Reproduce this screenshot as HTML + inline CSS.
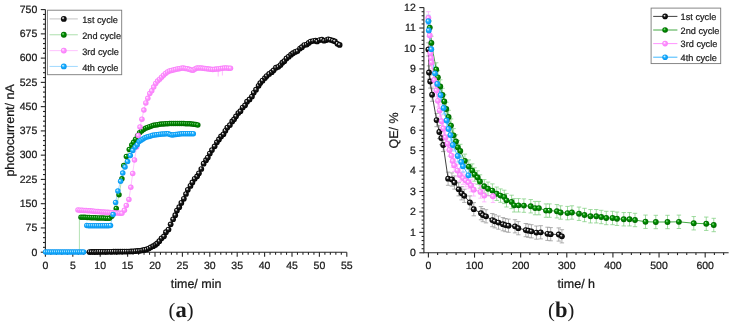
<!DOCTYPE html>
<html><head><meta charset="utf-8"><title>Figure</title>
<style>html,body{margin:0;padding:0;background:#fff;width:735px;height:328px;overflow:hidden}svg{display:block} text{text-rendering:geometricPrecision}</style>
</head><body><svg width="735" height="328" viewBox="0 0 735 328" font-family="'Liberation Sans', Arial, sans-serif" fill="#1a1a1a"><defs><radialGradient id="sk" cx="0.5" cy="0.5" r="0.5" fx="0.33" fy="0.31"><stop offset="0" stop-color="#ffffff"/><stop offset="0.2" stop-color="#c0c0c0"/><stop offset="0.45" stop-color="#1c1c1c"/><stop offset="1" stop-color="#000000"/></radialGradient><radialGradient id="sg" cx="0.5" cy="0.5" r="0.5" fx="0.33" fy="0.31"><stop offset="0" stop-color="#f0fff0"/><stop offset="0.16" stop-color="#6cc86c"/><stop offset="0.45" stop-color="#009000"/><stop offset="1" stop-color="#006400"/></radialGradient><radialGradient id="sp" cx="0.5" cy="0.5" r="0.5" fx="0.33" fy="0.31"><stop offset="0" stop-color="#ffffff"/><stop offset="0.2" stop-color="#ffd0ff"/><stop offset="0.5" stop-color="#ff90ff"/><stop offset="1" stop-color="#f67ef8"/></radialGradient><radialGradient id="sb" cx="0.5" cy="0.5" r="0.5" fx="0.33" fy="0.31"><stop offset="0" stop-color="#ffffff"/><stop offset="0.2" stop-color="#96dcff"/><stop offset="0.5" stop-color="#16adff"/><stop offset="1" stop-color="#0a95ee"/></radialGradient></defs><g stroke="#262626" stroke-width="1.1" fill="none"><path d="M45.4 9.6V252.2H346.8"/><path d="M40.8 252.2H45.4"/><path d="M43 247.35H45.4"/><path d="M43 242.5H45.4"/><path d="M43 237.64H45.4"/><path d="M43 232.79H45.4"/><path d="M40.8 227.94H45.4"/><path d="M43 223.09H45.4"/><path d="M43 218.24H45.4"/><path d="M43 213.38H45.4"/><path d="M43 208.53H45.4"/><path d="M40.8 203.68H45.4"/><path d="M43 198.83H45.4"/><path d="M43 193.98H45.4"/><path d="M43 189.12H45.4"/><path d="M43 184.27H45.4"/><path d="M40.8 179.42H45.4"/><path d="M43 174.57H45.4"/><path d="M43 169.72H45.4"/><path d="M43 164.86H45.4"/><path d="M43 160.01H45.4"/><path d="M40.8 155.16H45.4"/><path d="M43 150.31H45.4"/><path d="M43 145.46H45.4"/><path d="M43 140.6H45.4"/><path d="M43 135.75H45.4"/><path d="M40.8 130.9H45.4"/><path d="M43 126.05H45.4"/><path d="M43 121.2H45.4"/><path d="M43 116.34H45.4"/><path d="M43 111.49H45.4"/><path d="M40.8 106.64H45.4"/><path d="M43 101.79H45.4"/><path d="M43 96.94H45.4"/><path d="M43 92.08H45.4"/><path d="M43 87.23H45.4"/><path d="M40.8 82.38H45.4"/><path d="M43 77.53H45.4"/><path d="M43 72.68H45.4"/><path d="M43 67.82H45.4"/><path d="M43 62.97H45.4"/><path d="M40.8 58.12H45.4"/><path d="M43 53.27H45.4"/><path d="M43 48.42H45.4"/><path d="M43 43.56H45.4"/><path d="M43 38.71H45.4"/><path d="M40.8 33.86H45.4"/><path d="M43 29.01H45.4"/><path d="M43 24.16H45.4"/><path d="M43 19.3H45.4"/><path d="M43 14.45H45.4"/><path d="M40.8 9.6H45.4"/><path d="M45.4 252.2V256.8"/><path d="M50.88 252.2V254.8"/><path d="M56.36 252.2V254.8"/><path d="M61.84 252.2V254.8"/><path d="M67.32 252.2V254.8"/><path d="M72.8 252.2V256.8"/><path d="M78.28 252.2V254.8"/><path d="M83.76 252.2V254.8"/><path d="M89.24 252.2V254.8"/><path d="M94.72 252.2V254.8"/><path d="M100.2 252.2V256.8"/><path d="M105.68 252.2V254.8"/><path d="M111.16 252.2V254.8"/><path d="M116.64 252.2V254.8"/><path d="M122.12 252.2V254.8"/><path d="M127.6 252.2V256.8"/><path d="M133.08 252.2V254.8"/><path d="M138.56 252.2V254.8"/><path d="M144.04 252.2V254.8"/><path d="M149.52 252.2V254.8"/><path d="M155 252.2V256.8"/><path d="M160.48 252.2V254.8"/><path d="M165.96 252.2V254.8"/><path d="M171.44 252.2V254.8"/><path d="M176.92 252.2V254.8"/><path d="M182.4 252.2V256.8"/><path d="M187.88 252.2V254.8"/><path d="M193.36 252.2V254.8"/><path d="M198.84 252.2V254.8"/><path d="M204.32 252.2V254.8"/><path d="M209.8 252.2V256.8"/><path d="M215.28 252.2V254.8"/><path d="M220.76 252.2V254.8"/><path d="M226.24 252.2V254.8"/><path d="M231.72 252.2V254.8"/><path d="M237.2 252.2V256.8"/><path d="M242.68 252.2V254.8"/><path d="M248.16 252.2V254.8"/><path d="M253.64 252.2V254.8"/><path d="M259.12 252.2V254.8"/><path d="M264.6 252.2V256.8"/><path d="M270.08 252.2V254.8"/><path d="M275.56 252.2V254.8"/><path d="M281.04 252.2V254.8"/><path d="M286.52 252.2V254.8"/><path d="M292 252.2V256.8"/><path d="M297.48 252.2V254.8"/><path d="M302.96 252.2V254.8"/><path d="M308.44 252.2V254.8"/><path d="M313.92 252.2V254.8"/><path d="M319.4 252.2V256.8"/><path d="M324.88 252.2V254.8"/><path d="M330.36 252.2V254.8"/><path d="M335.84 252.2V254.8"/><path d="M341.32 252.2V254.8"/><path d="M346.8 252.2V256.8"/></g><polyline points="79.4,252.2 79.4,217.2 81,217.2 83.04,217.29 85.07,217.37 87.11,217.46 89.14,217.55 91.18,217.64 93.21,217.72 95.25,217.81 97.29,217.88 99.32,217.95 101.36,218.02 103.39,218.09 105.43,218.16 107.46,218.23 109.5,218.3 111.8,216.2 113.9,212.8 116.25,208.5 119,194.7 121.9,178.75 123.75,165.6 126.4,156.5 129.25,149.4 131.75,145 133.6,142.2 135.6,139.2 137.61,135.76 139.61,132.77 141.62,131.07 143.63,129.47 145.63,128.15 147.64,127.42 149.65,126.69 151.65,125.96 153.66,125.37 155.66,125.03 157.67,124.68 159.68,124.34 161.68,124.11 163.69,123.95 165.7,123.79 167.7,123.63 169.71,123.6 171.72,123.6 173.72,123.6 175.73,123.6 177.74,123.6 179.74,123.6 181.75,123.6 183.75,123.61 185.76,123.69 187.77,123.77 189.77,123.85 191.78,124.01 193.79,124.31 195.79,124.6 197.8,124.9" fill="none" stroke="#b4e2b4" stroke-width="1"/><polyline points="78,210 80,210.13 81.99,210.27 83.99,210.4 85.98,210.53 87.98,210.67 89.97,210.8 91.97,211 93.96,211.2 95.96,211.4 97.95,211.6 99.95,211.8 101.95,211.94 103.94,212.08 105.94,212.22 107.93,212.36 109.93,212.49 111.92,212.63 113.92,212.76 115.91,212.9 117.91,213.03 119.9,213.17 121.9,213.3 124.4,210.3 126.3,205.6 128.9,199.5 130.8,187.3 132.7,173.5 134.5,160 136.6,147 138.2,135.6 140,127 141.9,119.16 143.87,110.1 145.84,102.9 147.81,98.36 149.78,93.56 151.74,90.82 153.71,87.07 155.68,83.52 157.65,81.1 159.62,79.13 161.59,77.16 163.56,75.19 165.53,73.38 167.5,72 169.46,71.02 171.43,70.46 173.4,70.07 175.37,69.57 177.34,69.04 179.31,68.64 181.28,68.24 183.25,68.11 185.22,68.41 187.18,68.7 189.15,69.33 191.12,70.02 193.09,70.18 195.06,69.12 197.03,68.05 199,67.94 200.97,68.12 202.94,68.31 204.9,68.49 206.87,68.77 208.84,69.05 210.81,69.33 212.78,69.44 214.75,69.27 216.72,69.11 218.69,68.9 220.66,68.62 222.62,68.34 224.59,68.06 226.56,68.06 228.53,68.13 230.5,68.2" fill="none" stroke="#ffc8ff" stroke-width="1"/><path d="M218.2 70V76.5M222.4 70V75.5" stroke="#ffb4ff" stroke-width="0.9"/><polyline points="45.6,252 47.6,252 49.6,252 51.6,252 53.6,252 55.6,252 57.6,252 59.6,252 61.6,252 63.6,252 65.6,252 67.6,252 69.6,252 71.6,252 73.6,252 75.6,252 77.6,252 79.6,252 81.6,252 83.6,252" fill="none" stroke="#a8dcff" stroke-width="1"/><polyline points="86.8,225.6 88.77,225.63 90.75,225.66 92.72,225.69 94.7,225.72 96.67,225.75 98.65,225.78 100.62,225.79 102.6,225.75 104.58,225.71 106.55,225.68 108.53,225.64 110.5,225.6 113.1,214.4 115.6,202.5 117.9,191 120.6,181.25 122.75,173.1 125,166.9 127.6,161.6 130.3,155.5 132.8,150.4 135.2,147 137.2,144.68 139.13,141.58 141.07,140.26 143,139.01 144.94,137.77 146.87,137.1 148.81,136.52 150.74,135.94 152.68,135.37 154.61,135.05 156.54,134.77 158.48,134.49 160.41,134.21 162.35,134.08 164.28,133.95 166.22,133.82 168.15,133.72 170.09,134.38 172.02,134.98 173.96,134.68 175.89,134.38 177.82,134.21 179.76,134.03 181.69,133.86 183.63,133.7 185.56,133.7 187.5,133.7 189.43,133.7 191.37,133.7 193.3,133.7" fill="none" stroke="#a8dcff" stroke-width="1"/><polyline points="89.5,252 91.69,251.97 93.88,251.95 96.08,251.92 98.27,251.89 100.46,251.86 102.65,251.84 104.84,251.81 107.04,251.78 109.23,251.76 111.42,251.73 113.61,251.7 115.81,251.68 118,251.65 120.19,251.62 122.38,251.59 124.57,251.57 126.77,251.54 128.96,251.51 131.15,251.42 133.34,251.27 135.53,251.11 137.73,250.96 139.92,250.81 142.11,250.36 144.3,249.91 146.49,249.41 148.69,248.6 150.76,247.31 153.18,246.17 155.29,244.91 157.15,243.44 159.32,241.13 161.54,238.24 163.98,236.35 165.96,232.16 168.5,229.49 170.66,224.29 173.13,219.27 175.24,215.22 176.94,210.6 179.24,207.19 181.34,202.9 183.86,198.8 185.99,193.98 187.84,189.85 190.46,185.94 192.4,182.43 194.69,178.85 197.12,176.37 198.93,173.24 201.32,169.01 203.65,163.72 206.02,160.19 207.82,157.55 209.82,153.48 211.94,150.06 214.64,146.29 216.9,142.28 218.97,139.43 221.08,136.39 223.46,134.24 225.39,130.77 227.3,127.62 229.9,125.04 232.21,121.41 234.1,119.32 236.04,116.33 238.33,113.08 240.45,111.22 242.69,107.52 245.06,105.32 247.04,101.66 249.56,99.39 251.94,96.49 253.75,92.75 256,89.69 258.61,85.8 260.26,83.1 262.49,80.7 264.93,78.1 266.71,76.04 269.16,73.97 271.76,72.17 273.65,70.26 275.95,67.66 278.3,66.85 280.48,65.04 282.33,62.64 284.32,61.13 286.48,58.46 288.78,56.71 291.06,54.68 293.02,53.16 295.28,51.92 297.42,51.1 300.02,48.55 301.96,47.16 304.23,45.05 306.76,44.58 308.69,42.95 310.61,41.51 312.98,40.99 315.52,40.57 317.15,41.39 319.69,40.02 321.89,39.64 324.07,40.76 326.5,40.08 328.27,39.26 330.4,39.78 332.85,40.61 334.9,41.29 337.43,43.79 339.65,44.93" fill="none" stroke="#c8c8c8" stroke-width="1"/><circle cx="89.5" cy="252" r="2.85" fill="url(#sk)"/><circle cx="91.69" cy="251.97" r="2.85" fill="url(#sk)"/><circle cx="93.88" cy="251.95" r="2.85" fill="url(#sk)"/><circle cx="96.08" cy="251.92" r="2.85" fill="url(#sk)"/><circle cx="98.27" cy="251.89" r="2.85" fill="url(#sk)"/><circle cx="100.46" cy="251.86" r="2.85" fill="url(#sk)"/><circle cx="102.65" cy="251.84" r="2.85" fill="url(#sk)"/><circle cx="104.84" cy="251.81" r="2.85" fill="url(#sk)"/><circle cx="107.04" cy="251.78" r="2.85" fill="url(#sk)"/><circle cx="109.23" cy="251.76" r="2.85" fill="url(#sk)"/><circle cx="111.42" cy="251.73" r="2.85" fill="url(#sk)"/><circle cx="113.61" cy="251.7" r="2.85" fill="url(#sk)"/><circle cx="115.81" cy="251.68" r="2.85" fill="url(#sk)"/><circle cx="118" cy="251.65" r="2.85" fill="url(#sk)"/><circle cx="120.19" cy="251.62" r="2.85" fill="url(#sk)"/><circle cx="122.38" cy="251.59" r="2.85" fill="url(#sk)"/><circle cx="124.57" cy="251.57" r="2.85" fill="url(#sk)"/><circle cx="126.77" cy="251.54" r="2.85" fill="url(#sk)"/><circle cx="128.96" cy="251.51" r="2.85" fill="url(#sk)"/><circle cx="131.15" cy="251.42" r="2.85" fill="url(#sk)"/><circle cx="133.34" cy="251.27" r="2.85" fill="url(#sk)"/><circle cx="135.53" cy="251.11" r="2.85" fill="url(#sk)"/><circle cx="137.73" cy="250.96" r="2.85" fill="url(#sk)"/><circle cx="139.92" cy="250.81" r="2.85" fill="url(#sk)"/><circle cx="142.11" cy="250.36" r="2.85" fill="url(#sk)"/><circle cx="144.3" cy="249.91" r="2.85" fill="url(#sk)"/><circle cx="146.49" cy="249.41" r="2.85" fill="url(#sk)"/><circle cx="148.69" cy="248.6" r="2.85" fill="url(#sk)"/><circle cx="150.76" cy="247.31" r="2.85" fill="url(#sk)"/><circle cx="153.18" cy="246.17" r="2.85" fill="url(#sk)"/><circle cx="155.29" cy="244.91" r="2.85" fill="url(#sk)"/><circle cx="157.15" cy="243.44" r="2.85" fill="url(#sk)"/><circle cx="159.32" cy="241.13" r="2.85" fill="url(#sk)"/><circle cx="161.54" cy="238.24" r="2.85" fill="url(#sk)"/><circle cx="163.98" cy="236.35" r="2.85" fill="url(#sk)"/><circle cx="165.96" cy="232.16" r="2.85" fill="url(#sk)"/><circle cx="168.5" cy="229.49" r="2.85" fill="url(#sk)"/><circle cx="170.66" cy="224.29" r="2.85" fill="url(#sk)"/><circle cx="173.13" cy="219.27" r="2.85" fill="url(#sk)"/><circle cx="175.24" cy="215.22" r="2.85" fill="url(#sk)"/><circle cx="176.94" cy="210.6" r="2.85" fill="url(#sk)"/><circle cx="179.24" cy="207.19" r="2.85" fill="url(#sk)"/><circle cx="181.34" cy="202.9" r="2.85" fill="url(#sk)"/><circle cx="183.86" cy="198.8" r="2.85" fill="url(#sk)"/><circle cx="185.99" cy="193.98" r="2.85" fill="url(#sk)"/><circle cx="187.84" cy="189.85" r="2.85" fill="url(#sk)"/><circle cx="190.46" cy="185.94" r="2.85" fill="url(#sk)"/><circle cx="192.4" cy="182.43" r="2.85" fill="url(#sk)"/><circle cx="194.69" cy="178.85" r="2.85" fill="url(#sk)"/><circle cx="197.12" cy="176.37" r="2.85" fill="url(#sk)"/><circle cx="198.93" cy="173.24" r="2.85" fill="url(#sk)"/><circle cx="201.32" cy="169.01" r="2.85" fill="url(#sk)"/><circle cx="203.65" cy="163.72" r="2.85" fill="url(#sk)"/><circle cx="206.02" cy="160.19" r="2.85" fill="url(#sk)"/><circle cx="207.82" cy="157.55" r="2.85" fill="url(#sk)"/><circle cx="209.82" cy="153.48" r="2.85" fill="url(#sk)"/><circle cx="211.94" cy="150.06" r="2.85" fill="url(#sk)"/><circle cx="214.64" cy="146.29" r="2.85" fill="url(#sk)"/><circle cx="216.9" cy="142.28" r="2.85" fill="url(#sk)"/><circle cx="218.97" cy="139.43" r="2.85" fill="url(#sk)"/><circle cx="221.08" cy="136.39" r="2.85" fill="url(#sk)"/><circle cx="223.46" cy="134.24" r="2.85" fill="url(#sk)"/><circle cx="225.39" cy="130.77" r="2.85" fill="url(#sk)"/><circle cx="227.3" cy="127.62" r="2.85" fill="url(#sk)"/><circle cx="229.9" cy="125.04" r="2.85" fill="url(#sk)"/><circle cx="232.21" cy="121.41" r="2.85" fill="url(#sk)"/><circle cx="234.1" cy="119.32" r="2.85" fill="url(#sk)"/><circle cx="236.04" cy="116.33" r="2.85" fill="url(#sk)"/><circle cx="238.33" cy="113.08" r="2.85" fill="url(#sk)"/><circle cx="240.45" cy="111.22" r="2.85" fill="url(#sk)"/><circle cx="242.69" cy="107.52" r="2.85" fill="url(#sk)"/><circle cx="245.06" cy="105.32" r="2.85" fill="url(#sk)"/><circle cx="247.04" cy="101.66" r="2.85" fill="url(#sk)"/><circle cx="249.56" cy="99.39" r="2.85" fill="url(#sk)"/><circle cx="251.94" cy="96.49" r="2.85" fill="url(#sk)"/><circle cx="253.75" cy="92.75" r="2.85" fill="url(#sk)"/><circle cx="256" cy="89.69" r="2.85" fill="url(#sk)"/><circle cx="258.61" cy="85.8" r="2.85" fill="url(#sk)"/><circle cx="260.26" cy="83.1" r="2.85" fill="url(#sk)"/><circle cx="262.49" cy="80.7" r="2.85" fill="url(#sk)"/><circle cx="264.93" cy="78.1" r="2.85" fill="url(#sk)"/><circle cx="266.71" cy="76.04" r="2.85" fill="url(#sk)"/><circle cx="269.16" cy="73.97" r="2.85" fill="url(#sk)"/><circle cx="271.76" cy="72.17" r="2.85" fill="url(#sk)"/><circle cx="273.65" cy="70.26" r="2.85" fill="url(#sk)"/><circle cx="275.95" cy="67.66" r="2.85" fill="url(#sk)"/><circle cx="278.3" cy="66.85" r="2.85" fill="url(#sk)"/><circle cx="280.48" cy="65.04" r="2.85" fill="url(#sk)"/><circle cx="282.33" cy="62.64" r="2.85" fill="url(#sk)"/><circle cx="284.32" cy="61.13" r="2.85" fill="url(#sk)"/><circle cx="286.48" cy="58.46" r="2.85" fill="url(#sk)"/><circle cx="288.78" cy="56.71" r="2.85" fill="url(#sk)"/><circle cx="291.06" cy="54.68" r="2.85" fill="url(#sk)"/><circle cx="293.02" cy="53.16" r="2.85" fill="url(#sk)"/><circle cx="295.28" cy="51.92" r="2.85" fill="url(#sk)"/><circle cx="297.42" cy="51.1" r="2.85" fill="url(#sk)"/><circle cx="300.02" cy="48.55" r="2.85" fill="url(#sk)"/><circle cx="301.96" cy="47.16" r="2.85" fill="url(#sk)"/><circle cx="304.23" cy="45.05" r="2.85" fill="url(#sk)"/><circle cx="306.76" cy="44.58" r="2.85" fill="url(#sk)"/><circle cx="308.69" cy="42.95" r="2.85" fill="url(#sk)"/><circle cx="310.61" cy="41.51" r="2.85" fill="url(#sk)"/><circle cx="312.98" cy="40.99" r="2.85" fill="url(#sk)"/><circle cx="315.52" cy="40.57" r="2.85" fill="url(#sk)"/><circle cx="317.15" cy="41.39" r="2.85" fill="url(#sk)"/><circle cx="319.69" cy="40.02" r="2.85" fill="url(#sk)"/><circle cx="321.89" cy="39.64" r="2.85" fill="url(#sk)"/><circle cx="324.07" cy="40.76" r="2.85" fill="url(#sk)"/><circle cx="326.5" cy="40.08" r="2.85" fill="url(#sk)"/><circle cx="328.27" cy="39.26" r="2.85" fill="url(#sk)"/><circle cx="330.4" cy="39.78" r="2.85" fill="url(#sk)"/><circle cx="332.85" cy="40.61" r="2.85" fill="url(#sk)"/><circle cx="334.9" cy="41.29" r="2.85" fill="url(#sk)"/><circle cx="337.43" cy="43.79" r="2.85" fill="url(#sk)"/><circle cx="339.65" cy="44.93" r="2.85" fill="url(#sk)"/><circle cx="81" cy="217.2" r="2.75" fill="url(#sg)"/><circle cx="83.04" cy="217.29" r="2.75" fill="url(#sg)"/><circle cx="85.07" cy="217.37" r="2.75" fill="url(#sg)"/><circle cx="87.11" cy="217.46" r="2.75" fill="url(#sg)"/><circle cx="89.14" cy="217.55" r="2.75" fill="url(#sg)"/><circle cx="91.18" cy="217.64" r="2.75" fill="url(#sg)"/><circle cx="93.21" cy="217.72" r="2.75" fill="url(#sg)"/><circle cx="95.25" cy="217.81" r="2.75" fill="url(#sg)"/><circle cx="97.29" cy="217.88" r="2.75" fill="url(#sg)"/><circle cx="99.32" cy="217.95" r="2.75" fill="url(#sg)"/><circle cx="101.36" cy="218.02" r="2.75" fill="url(#sg)"/><circle cx="103.39" cy="218.09" r="2.75" fill="url(#sg)"/><circle cx="105.43" cy="218.16" r="2.75" fill="url(#sg)"/><circle cx="107.46" cy="218.23" r="2.75" fill="url(#sg)"/><circle cx="109.5" cy="218.3" r="2.75" fill="url(#sg)"/><circle cx="111.8" cy="216.2" r="2.75" fill="url(#sg)"/><circle cx="113.9" cy="212.8" r="2.75" fill="url(#sg)"/><circle cx="116.25" cy="208.5" r="2.75" fill="url(#sg)"/><circle cx="119" cy="194.7" r="2.75" fill="url(#sg)"/><circle cx="121.9" cy="178.75" r="2.75" fill="url(#sg)"/><circle cx="123.75" cy="165.6" r="2.75" fill="url(#sg)"/><circle cx="126.4" cy="156.5" r="2.75" fill="url(#sg)"/><circle cx="129.25" cy="149.4" r="2.75" fill="url(#sg)"/><circle cx="131.75" cy="145" r="2.75" fill="url(#sg)"/><circle cx="133.6" cy="142.2" r="2.75" fill="url(#sg)"/><circle cx="135.6" cy="139.2" r="2.75" fill="url(#sg)"/><circle cx="137.61" cy="135.76" r="2.75" fill="url(#sg)"/><circle cx="139.61" cy="132.77" r="2.75" fill="url(#sg)"/><circle cx="141.62" cy="131.07" r="2.75" fill="url(#sg)"/><circle cx="143.63" cy="129.47" r="2.75" fill="url(#sg)"/><circle cx="145.63" cy="128.15" r="2.75" fill="url(#sg)"/><circle cx="147.64" cy="127.42" r="2.75" fill="url(#sg)"/><circle cx="149.65" cy="126.69" r="2.75" fill="url(#sg)"/><circle cx="151.65" cy="125.96" r="2.75" fill="url(#sg)"/><circle cx="153.66" cy="125.37" r="2.75" fill="url(#sg)"/><circle cx="155.66" cy="125.03" r="2.75" fill="url(#sg)"/><circle cx="157.67" cy="124.68" r="2.75" fill="url(#sg)"/><circle cx="159.68" cy="124.34" r="2.75" fill="url(#sg)"/><circle cx="161.68" cy="124.11" r="2.75" fill="url(#sg)"/><circle cx="163.69" cy="123.95" r="2.75" fill="url(#sg)"/><circle cx="165.7" cy="123.79" r="2.75" fill="url(#sg)"/><circle cx="167.7" cy="123.63" r="2.75" fill="url(#sg)"/><circle cx="169.71" cy="123.6" r="2.75" fill="url(#sg)"/><circle cx="171.72" cy="123.6" r="2.75" fill="url(#sg)"/><circle cx="173.72" cy="123.6" r="2.75" fill="url(#sg)"/><circle cx="175.73" cy="123.6" r="2.75" fill="url(#sg)"/><circle cx="177.74" cy="123.6" r="2.75" fill="url(#sg)"/><circle cx="179.74" cy="123.6" r="2.75" fill="url(#sg)"/><circle cx="181.75" cy="123.6" r="2.75" fill="url(#sg)"/><circle cx="183.75" cy="123.61" r="2.75" fill="url(#sg)"/><circle cx="185.76" cy="123.69" r="2.75" fill="url(#sg)"/><circle cx="187.77" cy="123.77" r="2.75" fill="url(#sg)"/><circle cx="189.77" cy="123.85" r="2.75" fill="url(#sg)"/><circle cx="191.78" cy="124.01" r="2.75" fill="url(#sg)"/><circle cx="193.79" cy="124.31" r="2.75" fill="url(#sg)"/><circle cx="195.79" cy="124.6" r="2.75" fill="url(#sg)"/><circle cx="197.8" cy="124.9" r="2.75" fill="url(#sg)"/><circle cx="78" cy="210" r="2.75" fill="url(#sp)"/><circle cx="80" cy="210.13" r="2.75" fill="url(#sp)"/><circle cx="81.99" cy="210.27" r="2.75" fill="url(#sp)"/><circle cx="83.99" cy="210.4" r="2.75" fill="url(#sp)"/><circle cx="85.98" cy="210.53" r="2.75" fill="url(#sp)"/><circle cx="87.98" cy="210.67" r="2.75" fill="url(#sp)"/><circle cx="89.97" cy="210.8" r="2.75" fill="url(#sp)"/><circle cx="91.97" cy="211" r="2.75" fill="url(#sp)"/><circle cx="93.96" cy="211.2" r="2.75" fill="url(#sp)"/><circle cx="95.96" cy="211.4" r="2.75" fill="url(#sp)"/><circle cx="97.95" cy="211.6" r="2.75" fill="url(#sp)"/><circle cx="99.95" cy="211.8" r="2.75" fill="url(#sp)"/><circle cx="101.95" cy="211.94" r="2.75" fill="url(#sp)"/><circle cx="103.94" cy="212.08" r="2.75" fill="url(#sp)"/><circle cx="105.94" cy="212.22" r="2.75" fill="url(#sp)"/><circle cx="107.93" cy="212.36" r="2.75" fill="url(#sp)"/><circle cx="109.93" cy="212.49" r="2.75" fill="url(#sp)"/><circle cx="111.92" cy="212.63" r="2.75" fill="url(#sp)"/><circle cx="113.92" cy="212.76" r="2.75" fill="url(#sp)"/><circle cx="115.91" cy="212.9" r="2.75" fill="url(#sp)"/><circle cx="117.91" cy="213.03" r="2.75" fill="url(#sp)"/><circle cx="119.9" cy="213.17" r="2.75" fill="url(#sp)"/><circle cx="121.9" cy="213.3" r="2.75" fill="url(#sp)"/><circle cx="124.4" cy="210.3" r="2.75" fill="url(#sp)"/><circle cx="126.3" cy="205.6" r="2.75" fill="url(#sp)"/><circle cx="128.9" cy="199.5" r="2.75" fill="url(#sp)"/><circle cx="130.8" cy="187.3" r="2.75" fill="url(#sp)"/><circle cx="132.7" cy="173.5" r="2.75" fill="url(#sp)"/><circle cx="134.5" cy="160" r="2.75" fill="url(#sp)"/><circle cx="136.6" cy="147" r="2.75" fill="url(#sp)"/><circle cx="138.2" cy="135.6" r="2.75" fill="url(#sp)"/><circle cx="140" cy="127" r="2.75" fill="url(#sp)"/><circle cx="141.9" cy="119.16" r="2.75" fill="url(#sp)"/><circle cx="143.87" cy="110.1" r="2.75" fill="url(#sp)"/><circle cx="145.84" cy="102.9" r="2.75" fill="url(#sp)"/><circle cx="147.81" cy="98.36" r="2.75" fill="url(#sp)"/><circle cx="149.78" cy="93.56" r="2.75" fill="url(#sp)"/><circle cx="151.74" cy="90.82" r="2.75" fill="url(#sp)"/><circle cx="153.71" cy="87.07" r="2.75" fill="url(#sp)"/><circle cx="155.68" cy="83.52" r="2.75" fill="url(#sp)"/><circle cx="157.65" cy="81.1" r="2.75" fill="url(#sp)"/><circle cx="159.62" cy="79.13" r="2.75" fill="url(#sp)"/><circle cx="161.59" cy="77.16" r="2.75" fill="url(#sp)"/><circle cx="163.56" cy="75.19" r="2.75" fill="url(#sp)"/><circle cx="165.53" cy="73.38" r="2.75" fill="url(#sp)"/><circle cx="167.5" cy="72" r="2.75" fill="url(#sp)"/><circle cx="169.46" cy="71.02" r="2.75" fill="url(#sp)"/><circle cx="171.43" cy="70.46" r="2.75" fill="url(#sp)"/><circle cx="173.4" cy="70.07" r="2.75" fill="url(#sp)"/><circle cx="175.37" cy="69.57" r="2.75" fill="url(#sp)"/><circle cx="177.34" cy="69.04" r="2.75" fill="url(#sp)"/><circle cx="179.31" cy="68.64" r="2.75" fill="url(#sp)"/><circle cx="181.28" cy="68.24" r="2.75" fill="url(#sp)"/><circle cx="183.25" cy="68.11" r="2.75" fill="url(#sp)"/><circle cx="185.22" cy="68.41" r="2.75" fill="url(#sp)"/><circle cx="187.18" cy="68.7" r="2.75" fill="url(#sp)"/><circle cx="189.15" cy="69.33" r="2.75" fill="url(#sp)"/><circle cx="191.12" cy="70.02" r="2.75" fill="url(#sp)"/><circle cx="193.09" cy="70.18" r="2.75" fill="url(#sp)"/><circle cx="195.06" cy="69.12" r="2.75" fill="url(#sp)"/><circle cx="197.03" cy="68.05" r="2.75" fill="url(#sp)"/><circle cx="199" cy="67.94" r="2.75" fill="url(#sp)"/><circle cx="200.97" cy="68.12" r="2.75" fill="url(#sp)"/><circle cx="202.94" cy="68.31" r="2.75" fill="url(#sp)"/><circle cx="204.9" cy="68.49" r="2.75" fill="url(#sp)"/><circle cx="206.87" cy="68.77" r="2.75" fill="url(#sp)"/><circle cx="208.84" cy="69.05" r="2.75" fill="url(#sp)"/><circle cx="210.81" cy="69.33" r="2.75" fill="url(#sp)"/><circle cx="212.78" cy="69.44" r="2.75" fill="url(#sp)"/><circle cx="214.75" cy="69.27" r="2.75" fill="url(#sp)"/><circle cx="216.72" cy="69.11" r="2.75" fill="url(#sp)"/><circle cx="218.69" cy="68.9" r="2.75" fill="url(#sp)"/><circle cx="220.66" cy="68.62" r="2.75" fill="url(#sp)"/><circle cx="222.62" cy="68.34" r="2.75" fill="url(#sp)"/><circle cx="224.59" cy="68.06" r="2.75" fill="url(#sp)"/><circle cx="226.56" cy="68.06" r="2.75" fill="url(#sp)"/><circle cx="228.53" cy="68.13" r="2.75" fill="url(#sp)"/><circle cx="230.5" cy="68.2" r="2.75" fill="url(#sp)"/><circle cx="45.6" cy="252" r="2.75" fill="url(#sb)"/><circle cx="47.6" cy="252" r="2.75" fill="url(#sb)"/><circle cx="49.6" cy="252" r="2.75" fill="url(#sb)"/><circle cx="51.6" cy="252" r="2.75" fill="url(#sb)"/><circle cx="53.6" cy="252" r="2.75" fill="url(#sb)"/><circle cx="55.6" cy="252" r="2.75" fill="url(#sb)"/><circle cx="57.6" cy="252" r="2.75" fill="url(#sb)"/><circle cx="59.6" cy="252" r="2.75" fill="url(#sb)"/><circle cx="61.6" cy="252" r="2.75" fill="url(#sb)"/><circle cx="63.6" cy="252" r="2.75" fill="url(#sb)"/><circle cx="65.6" cy="252" r="2.75" fill="url(#sb)"/><circle cx="67.6" cy="252" r="2.75" fill="url(#sb)"/><circle cx="69.6" cy="252" r="2.75" fill="url(#sb)"/><circle cx="71.6" cy="252" r="2.75" fill="url(#sb)"/><circle cx="73.6" cy="252" r="2.75" fill="url(#sb)"/><circle cx="75.6" cy="252" r="2.75" fill="url(#sb)"/><circle cx="77.6" cy="252" r="2.75" fill="url(#sb)"/><circle cx="79.6" cy="252" r="2.75" fill="url(#sb)"/><circle cx="81.6" cy="252" r="2.75" fill="url(#sb)"/><circle cx="83.6" cy="252" r="2.75" fill="url(#sb)"/><circle cx="86.8" cy="225.6" r="2.75" fill="url(#sb)"/><circle cx="88.77" cy="225.63" r="2.75" fill="url(#sb)"/><circle cx="90.75" cy="225.66" r="2.75" fill="url(#sb)"/><circle cx="92.72" cy="225.69" r="2.75" fill="url(#sb)"/><circle cx="94.7" cy="225.72" r="2.75" fill="url(#sb)"/><circle cx="96.67" cy="225.75" r="2.75" fill="url(#sb)"/><circle cx="98.65" cy="225.78" r="2.75" fill="url(#sb)"/><circle cx="100.62" cy="225.79" r="2.75" fill="url(#sb)"/><circle cx="102.6" cy="225.75" r="2.75" fill="url(#sb)"/><circle cx="104.58" cy="225.71" r="2.75" fill="url(#sb)"/><circle cx="106.55" cy="225.68" r="2.75" fill="url(#sb)"/><circle cx="108.53" cy="225.64" r="2.75" fill="url(#sb)"/><circle cx="110.5" cy="225.6" r="2.75" fill="url(#sb)"/><circle cx="113.1" cy="214.4" r="2.75" fill="url(#sb)"/><circle cx="115.6" cy="202.5" r="2.75" fill="url(#sb)"/><circle cx="117.9" cy="191" r="2.75" fill="url(#sb)"/><circle cx="120.6" cy="181.25" r="2.75" fill="url(#sb)"/><circle cx="122.75" cy="173.1" r="2.75" fill="url(#sb)"/><circle cx="125" cy="166.9" r="2.75" fill="url(#sb)"/><circle cx="127.6" cy="161.6" r="2.75" fill="url(#sb)"/><circle cx="130.3" cy="155.5" r="2.75" fill="url(#sb)"/><circle cx="132.8" cy="150.4" r="2.75" fill="url(#sb)"/><circle cx="135.2" cy="147" r="2.75" fill="url(#sb)"/><circle cx="137.2" cy="144.68" r="2.75" fill="url(#sb)"/><circle cx="139.13" cy="141.58" r="2.75" fill="url(#sb)"/><circle cx="141.07" cy="140.26" r="2.75" fill="url(#sb)"/><circle cx="143" cy="139.01" r="2.75" fill="url(#sb)"/><circle cx="144.94" cy="137.77" r="2.75" fill="url(#sb)"/><circle cx="146.87" cy="137.1" r="2.75" fill="url(#sb)"/><circle cx="148.81" cy="136.52" r="2.75" fill="url(#sb)"/><circle cx="150.74" cy="135.94" r="2.75" fill="url(#sb)"/><circle cx="152.68" cy="135.37" r="2.75" fill="url(#sb)"/><circle cx="154.61" cy="135.05" r="2.75" fill="url(#sb)"/><circle cx="156.54" cy="134.77" r="2.75" fill="url(#sb)"/><circle cx="158.48" cy="134.49" r="2.75" fill="url(#sb)"/><circle cx="160.41" cy="134.21" r="2.75" fill="url(#sb)"/><circle cx="162.35" cy="134.08" r="2.75" fill="url(#sb)"/><circle cx="164.28" cy="133.95" r="2.75" fill="url(#sb)"/><circle cx="166.22" cy="133.82" r="2.75" fill="url(#sb)"/><circle cx="168.15" cy="133.72" r="2.75" fill="url(#sb)"/><circle cx="170.09" cy="134.38" r="2.75" fill="url(#sb)"/><circle cx="172.02" cy="134.98" r="2.75" fill="url(#sb)"/><circle cx="173.96" cy="134.68" r="2.75" fill="url(#sb)"/><circle cx="175.89" cy="134.38" r="2.75" fill="url(#sb)"/><circle cx="177.82" cy="134.21" r="2.75" fill="url(#sb)"/><circle cx="179.76" cy="134.03" r="2.75" fill="url(#sb)"/><circle cx="181.69" cy="133.86" r="2.75" fill="url(#sb)"/><circle cx="183.63" cy="133.7" r="2.75" fill="url(#sb)"/><circle cx="185.56" cy="133.7" r="2.75" fill="url(#sb)"/><circle cx="187.5" cy="133.7" r="2.75" fill="url(#sb)"/><circle cx="189.43" cy="133.7" r="2.75" fill="url(#sb)"/><circle cx="191.37" cy="133.7" r="2.75" fill="url(#sb)"/><circle cx="193.3" cy="133.7" r="2.75" fill="url(#sb)"/><g stroke="#262626" stroke-width="1.1" fill="none"><path d="M423.9 7.6V252.8H728.61"/><path d="M419.3 252.8H423.9"/><path d="M421.6 248.71H423.9"/><path d="M421.6 244.63H423.9"/><path d="M421.6 240.54H423.9"/><path d="M421.6 236.45H423.9"/><path d="M419.3 232.37H423.9"/><path d="M421.6 228.28H423.9"/><path d="M421.6 224.19H423.9"/><path d="M421.6 220.11H423.9"/><path d="M421.6 216.02H423.9"/><path d="M419.3 211.93H423.9"/><path d="M421.6 207.85H423.9"/><path d="M421.6 203.76H423.9"/><path d="M421.6 199.67H423.9"/><path d="M421.6 195.59H423.9"/><path d="M419.3 191.5H423.9"/><path d="M421.6 187.41H423.9"/><path d="M421.6 183.33H423.9"/><path d="M421.6 179.24H423.9"/><path d="M421.6 175.15H423.9"/><path d="M419.3 171.07H423.9"/><path d="M421.6 166.98H423.9"/><path d="M421.6 162.89H423.9"/><path d="M421.6 158.81H423.9"/><path d="M421.6 154.72H423.9"/><path d="M419.3 150.63H423.9"/><path d="M421.6 146.55H423.9"/><path d="M421.6 142.46H423.9"/><path d="M421.6 138.37H423.9"/><path d="M421.6 134.29H423.9"/><path d="M419.3 130.2H423.9"/><path d="M421.6 126.11H423.9"/><path d="M421.6 122.03H423.9"/><path d="M421.6 117.94H423.9"/><path d="M421.6 113.85H423.9"/><path d="M419.3 109.77H423.9"/><path d="M421.6 105.68H423.9"/><path d="M421.6 101.59H423.9"/><path d="M421.6 97.51H423.9"/><path d="M421.6 93.42H423.9"/><path d="M419.3 89.33H423.9"/><path d="M421.6 85.25H423.9"/><path d="M421.6 81.16H423.9"/><path d="M421.6 77.07H423.9"/><path d="M421.6 72.99H423.9"/><path d="M419.3 68.9H423.9"/><path d="M421.6 64.81H423.9"/><path d="M421.6 60.73H423.9"/><path d="M421.6 56.64H423.9"/><path d="M421.6 52.55H423.9"/><path d="M419.3 48.47H423.9"/><path d="M421.6 44.38H423.9"/><path d="M421.6 40.29H423.9"/><path d="M421.6 36.21H423.9"/><path d="M421.6 32.12H423.9"/><path d="M419.3 28.03H423.9"/><path d="M421.6 23.95H423.9"/><path d="M421.6 19.86H423.9"/><path d="M421.6 15.77H423.9"/><path d="M421.6 11.69H423.9"/><path d="M419.3 7.6H423.9"/><path d="M428.4 252.8V257.6"/><path d="M437.63 252.8V255.1"/><path d="M446.85 252.8V255.1"/><path d="M456.08 252.8V255.1"/><path d="M465.3 252.8V255.1"/><path d="M474.53 252.8V257.6"/><path d="M483.76 252.8V255.1"/><path d="M492.98 252.8V255.1"/><path d="M502.21 252.8V255.1"/><path d="M511.43 252.8V255.1"/><path d="M520.66 252.8V257.6"/><path d="M529.89 252.8V255.1"/><path d="M539.11 252.8V255.1"/><path d="M548.34 252.8V255.1"/><path d="M557.56 252.8V255.1"/><path d="M566.79 252.8V257.6"/><path d="M576.02 252.8V255.1"/><path d="M585.24 252.8V255.1"/><path d="M594.47 252.8V255.1"/><path d="M603.69 252.8V255.1"/><path d="M612.92 252.8V257.6"/><path d="M622.15 252.8V255.1"/><path d="M631.37 252.8V255.1"/><path d="M640.6 252.8V255.1"/><path d="M649.82 252.8V255.1"/><path d="M659.05 252.8V257.6"/><path d="M668.28 252.8V255.1"/><path d="M677.5 252.8V255.1"/><path d="M686.73 252.8V255.1"/><path d="M695.95 252.8V255.1"/><path d="M705.18 252.8V257.6"/><path d="M714.41 252.8V255.1"/><path d="M723.63 252.8V255.1"/></g><g stroke="#959595" stroke-width="0.75" fill="none"><path d="M428.4 42.8V56M426.2 42.8h4.4M426.2 56h4.4"/><path d="M429 65.9V79.1M426.8 65.9h4.4M426.8 79.1h4.4"/><path d="M430.2 74.9V88.1M428 74.9h4.4M428 88.1h4.4"/><path d="M432.1 88.1V101.3M429.9 88.1h4.4M429.9 101.3h4.4"/><path d="M436.6 113.5V126.7M434.4 113.5h4.4M434.4 126.7h4.4"/><path d="M439.3 125.4V138.6M437.1 125.4h4.4M437.1 138.6h4.4"/><path d="M441.3 131.5V144.7M439.1 131.5h4.4M439.1 144.7h4.4"/><path d="M443.2 138.4V151.6M441 138.4h4.4M441 151.6h4.4"/><path d="M448.1 172.1V185.3M445.9 172.1h4.4M445.9 185.3h4.4"/><path d="M451.9 172.9V186.1M449.7 172.9h4.4M449.7 186.1h4.4"/><path d="M454.5 175.9V189.1M452.3 175.9h4.4M452.3 189.1h4.4"/><path d="M458.7 182.7V195.9M456.5 182.7h4.4M456.5 195.9h4.4"/><path d="M461.7 186.7V199.9M459.5 186.7h4.4M459.5 199.9h4.4"/><path d="M464.3 189.2V202.4M462.1 189.2h4.4M462.1 202.4h4.4"/><path d="M469.9 195.9V209.1M467.7 195.9h4.4M467.7 209.1h4.4"/><path d="M473.8 202.6V215.8M471.6 202.6h4.4M471.6 215.8h4.4"/><path d="M481 206.6V219.8M478.8 206.6h4.4M478.8 219.8h4.4"/><path d="M482.9 208.5V221.7M480.7 208.5h4.4M480.7 221.7h4.4"/><path d="M486 209.7V222.9M483.8 209.7h4.4M483.8 222.9h4.4"/><path d="M492.3 213.5V226.7M490.1 213.5h4.4M490.1 226.7h4.4"/><path d="M494.8 214.7V227.9M492.6 214.7h4.4M492.6 227.9h4.4"/><path d="M498.5 216V229.2M496.3 216h4.4M496.3 229.2h4.4"/><path d="M502.9 217.6V230.8M500.7 217.6h4.4M500.7 230.8h4.4"/><path d="M505.4 218.5V231.7M503.2 218.5h4.4M503.2 231.7h4.4"/><path d="M508.5 219.1V232.3M506.3 219.1h4.4M506.3 232.3h4.4"/><path d="M515 219.7V232.9M512.8 219.7h4.4M512.8 232.9h4.4"/><path d="M518.3 221.6V234.8M516.1 221.6h4.4M516.1 234.8h4.4"/><path d="M525.8 223.5V236.7M523.6 223.5h4.4M523.6 236.7h4.4"/><path d="M528.3 224.1V237.3M526.1 224.1h4.4M526.1 237.3h4.4"/><path d="M531.4 224.7V237.9M529.2 224.7h4.4M529.2 237.9h4.4"/><path d="M536.4 226V239.2M534.2 226h4.4M534.2 239.2h4.4"/><path d="M540.7 225.7V238.9M538.5 225.7h4.4M538.5 238.9h4.4"/><path d="M547.5 227.2V240.4M545.3 227.2h4.4M545.3 240.4h4.4"/><path d="M550.7 227.6V240.8M548.5 227.6h4.4M548.5 240.8h4.4"/><path d="M558.8 227.9V241.1M556.6 227.9h4.4M556.6 241.1h4.4"/><path d="M561.9 229.7V242.9M559.7 229.7h4.4M559.7 242.9h4.4"/></g><g stroke="#80cf80" stroke-width="0.75" fill="none"><path d="M429.8 20.9V34.3M427.6 20.9h4.4M427.6 34.3h4.4"/><path d="M431.4 36.2V49.6M429.2 36.2h4.4M429.2 49.6h4.4"/><path d="M436.2 62.8V76.2M434 62.8h4.4M434 76.2h4.4"/><path d="M437.9 70.6V84M435.7 70.6h4.4M435.7 84h4.4"/><path d="M440.3 79.8V93.2M438.1 79.8h4.4M438.1 93.2h4.4"/><path d="M442.5 88.3V101.7M440.3 88.3h4.4M440.3 101.7h4.4"/><path d="M444.3 94.8V108.2M442.1 94.8h4.4M442.1 108.2h4.4"/><path d="M446.3 102.3V115.7M444.1 102.3h4.4M444.1 115.7h4.4"/><path d="M448.6 110.3V123.7M446.4 110.3h4.4M446.4 123.7h4.4"/><path d="M451 118.9V132.3M448.8 118.9h4.4M448.8 132.3h4.4"/><path d="M453.6 128.6V142M451.4 128.6h4.4M451.4 142h4.4"/><path d="M456 134.8V148.2M453.8 134.8h4.4M453.8 148.2h4.4"/><path d="M457.8 140.6V154M455.6 140.6h4.4M455.6 154h4.4"/><path d="M460.3 144.3V157.7M458.1 144.3h4.4M458.1 157.7h4.4"/><path d="M464.9 154.1V167.5M462.7 154.1h4.4M462.7 167.5h4.4"/><path d="M468.8 159.9V173.3M466.6 159.9h4.4M466.6 173.3h4.4"/><path d="M472.2 163.9V177.3M470 163.9h4.4M470 177.3h4.4"/><path d="M474.6 167.8V181.2M472.4 167.8h4.4M472.4 181.2h4.4"/><path d="M477.6 170.8V184.2M475.4 170.8h4.4M475.4 184.2h4.4"/><path d="M480 174.8V188.2M477.8 174.8h4.4M477.8 188.2h4.4"/><path d="M484.25 179.55V192.95M482.05 179.55h4.4M482.05 192.95h4.4"/><path d="M488 182.05V195.45M485.8 182.05h4.4M485.8 195.45h4.4"/><path d="M492.4 183.9V197.3M490.2 183.9h4.4M490.2 197.3h4.4"/><path d="M496.75 187.05V200.45M494.55 187.05h4.4M494.55 200.45h4.4"/><path d="M500.5 188.9V202.3M498.3 188.9h4.4M498.3 202.3h4.4"/><path d="M504.25 190.2V203.6M502.05 190.2h4.4M502.05 203.6h4.4"/><path d="M506.5 193.6V207M504.3 193.6h4.4M504.3 207h4.4"/><path d="M511.6 195.2V208.6M509.4 195.2h4.4M509.4 208.6h4.4"/><path d="M514.2 198.6V212M512 198.6h4.4M512 212h4.4"/><path d="M518.5 198.6V212M516.3 198.6h4.4M516.3 212h4.4"/><path d="M523.9 198.9V212.3M521.7 198.9h4.4M521.7 212.3h4.4"/><path d="M530.75 199.55V212.95M528.55 199.55h4.4M528.55 212.95h4.4"/><path d="M535.1 201.4V214.8M532.9 201.4h4.4M532.9 214.8h4.4"/><path d="M538.9 201.4V214.8M536.7 201.4h4.4M536.7 214.8h4.4"/><path d="M546 203.9V217.3M543.8 203.9h4.4M543.8 217.3h4.4"/><path d="M549.5 203.9V217.3M547.3 203.9h4.4M547.3 217.3h4.4"/><path d="M556.9 204.55V217.95M554.7 204.55h4.4M554.7 217.95h4.4"/><path d="M560.6 205.8V219.2M558.4 205.8h4.4M558.4 219.2h4.4"/><path d="M567.5 206.4V219.8M565.3 206.4h4.4M565.3 219.8h4.4"/><path d="M571.9 205.8V219.2M569.7 205.8h4.4M569.7 219.2h4.4"/><path d="M579 207.05V220.45M576.8 207.05h4.4M576.8 220.45h4.4"/><path d="M584.5 208.3V221.7M582.3 208.3h4.4M582.3 221.7h4.4"/><path d="M590.5 209.55V222.95M588.3 209.55h4.4M588.3 222.95h4.4"/><path d="M596.25 209.55V222.95M594.05 209.55h4.4M594.05 222.95h4.4"/><path d="M601.25 210.3V223.7M599.05 210.3h4.4M599.05 223.7h4.4"/><path d="M606.25 211.3V224.7M604.05 211.3h4.4M604.05 224.7h4.4"/><path d="M612.5 211.3V224.7M610.3 211.3h4.4M610.3 224.7h4.4"/><path d="M617 212.05V225.45M614.8 212.05h4.4M614.8 225.45h4.4"/><path d="M623.75 212.55V225.95M621.55 212.55h4.4M621.55 225.95h4.4"/><path d="M629.5 212.55V225.95M627.3 212.55h4.4M627.3 225.95h4.4"/><path d="M635 213.3V226.7M632.8 213.3h4.4M632.8 226.7h4.4"/><path d="M645.5 215.05V228.45M643.3 215.05h4.4M643.3 228.45h4.4"/><path d="M655.8 215.3V228.7M653.6 215.3h4.4M653.6 228.7h4.4"/><path d="M667.5 215.3V228.7M665.3 215.3h4.4M665.3 228.7h4.4"/><path d="M678.9 215.1V228.5M676.7 215.1h4.4M676.7 228.5h4.4"/><path d="M693.75 216.55V229.95M691.55 216.55h4.4M691.55 229.95h4.4"/><path d="M706.25 217.05V230.45M704.05 217.05h4.4M704.05 230.45h4.4"/><path d="M713.75 218.3V231.7M711.55 218.3h4.4M711.55 231.7h4.4"/></g><g stroke="#ffa8ff" stroke-width="0.75" fill="none"><path d="M428.4 11.7V24.3M426.2 11.7h4.4M426.2 24.3h4.4"/><path d="M429.8 29.1V41.7M427.6 29.1h4.4M427.6 41.7h4.4"/><path d="M430.4 47V59.6M428.2 47h4.4M428.2 59.6h4.4"/><path d="M431 51.7V64.3M428.8 51.7h4.4M428.8 64.3h4.4"/><path d="M431.6 56.2V68.8M429.4 56.2h4.4M429.4 68.8h4.4"/><path d="M434.2 73.7V86.3M432 73.7h4.4M432 86.3h4.4"/><path d="M436.4 84.2V96.8M434.2 84.2h4.4M434.2 96.8h4.4"/><path d="M437.9 94.5V107.1M435.7 94.5h4.4M435.7 107.1h4.4"/><path d="M439.7 104.3V116.9M437.5 104.3h4.4M437.5 116.9h4.4"/><path d="M441.6 114.95V127.55M439.4 114.95h4.4M439.4 127.55h4.4"/><path d="M443.4 122.2V134.8M441.2 122.2h4.4M441.2 134.8h4.4"/><path d="M445.4 131.2V143.8M443.2 131.2h4.4M443.2 143.8h4.4"/><path d="M447.6 137.45V150.05M445.4 137.45h4.4M445.4 150.05h4.4"/><path d="M449.5 143.7V156.3M447.3 143.7h4.4M447.3 156.3h4.4"/><path d="M451.4 149.3V161.9M449.2 149.3h4.4M449.2 161.9h4.4"/><path d="M452.8 154.7V167.3M450.6 154.7h4.4M450.6 167.3h4.4"/><path d="M454.2 159V171.6M452 159h4.4M452 171.6h4.4"/><path d="M457.5 164.3V176.9M455.3 164.3h4.4M455.3 176.9h4.4"/><path d="M460 168.7V181.3M457.8 168.7h4.4M457.8 181.3h4.4"/><path d="M463.1 171.8V184.4M460.9 171.8h4.4M460.9 184.4h4.4"/><path d="M465.8 174.2V186.8M463.6 174.2h4.4M463.6 186.8h4.4"/><path d="M468.6 176.2V188.8M466.4 176.2h4.4M466.4 188.8h4.4"/><path d="M471 179.2V191.8M468.8 179.2h4.4M468.8 191.8h4.4"/><path d="M473.7 183.4V196M471.5 183.4h4.4M471.5 196h4.4"/><path d="M480.5 185.6V198.2M478.3 185.6h4.4M478.3 198.2h4.4"/><path d="M484.25 189.3V201.9M482.05 189.3h4.4M482.05 201.9h4.4"/><path d="M493 189.95V202.55M490.8 189.95h4.4M490.8 202.55h4.4"/></g><g stroke="#7fd0ff" stroke-width="0.75" fill="none"><path d="M428.4 15.2V27.2M426.2 15.2h4.4M426.2 27.2h4.4"/><path d="M428.8 24.4V36.4M426.6 24.4h4.4M426.6 36.4h4.4"/><path d="M431.3 43.2V55.2M429.1 43.2h4.4M429.1 55.2h4.4"/><path d="M434.9 67.3V79.3M432.7 67.3h4.4M432.7 79.3h4.4"/><path d="M437.3 77.9V89.9M435.1 77.9h4.4M435.1 89.9h4.4"/><path d="M440.5 89.1V101.1M438.3 89.1h4.4M438.3 101.1h4.4"/><path d="M443.6 102V114M441.4 102h4.4M441.4 114h4.4"/><path d="M446.6 114.5V126.5M444.4 114.5h4.4M444.4 126.5h4.4"/><path d="M448.5 123V135M446.3 123h4.4M446.3 135h4.4"/><path d="M450.4 129.1V141.1M448.2 129.1h4.4M448.2 141.1h4.4"/><path d="M452.8 139V151M450.6 139h4.4M450.6 151h4.4"/><path d="M457.7 150V162M455.5 150h4.4M455.5 162h4.4"/><path d="M461.2 156V168M459 156h4.4M459 168h4.4"/><path d="M463 160.2V172.2M460.8 160.2h4.4M460.8 172.2h4.4"/><path d="M468.4 169.3V181.3M466.2 169.3h4.4M466.2 181.3h4.4"/></g><polyline points="428.4,49.4 429,72.5 430.2,81.5 432.1,94.7 436.6,120.1 439.3,132 441.3,138.1 443.2,145 448.1,178.7 451.9,179.5 454.5,182.5 458.7,189.3 461.7,193.3 464.3,195.8 469.9,202.5 473.8,209.2 481,213.2 482.9,215.1 486,216.3 492.3,220.1 494.8,221.3 498.5,222.6 502.9,224.2 505.4,225.1 508.5,225.7 515,226.3 518.3,228.2 525.8,230.1 528.3,230.7 531.4,231.3 536.4,232.6 540.7,232.3 547.5,233.8 550.7,234.2 558.8,234.5 561.9,236.3" fill="none" stroke="#2a2a2a" stroke-width="0.9"/><polyline points="429.8,27.6 431.4,42.9 436.2,69.5 437.9,77.3 440.3,86.5 442.5,95 444.3,101.5 446.3,109 448.6,117 451,125.6 453.6,135.3 456,141.5 457.8,147.3 460.3,151 464.9,160.8 468.8,166.6 472.2,170.6 474.6,174.5 477.6,177.5 480,181.5 484.25,186.25 488,188.75 492.4,190.6 496.75,193.75 500.5,195.6 504.25,196.9 506.5,200.3 511.6,201.9 514.2,205.3 518.5,205.3 523.9,205.6 530.75,206.25 535.1,208.1 538.9,208.1 546,210.6 549.5,210.6 556.9,211.25 560.6,212.5 567.5,213.1 571.9,212.5 579,213.75 584.5,215 590.5,216.25 596.25,216.25 601.25,217 606.25,218 612.5,218 617,218.75 623.75,219.25 629.5,219.25 635,220 645.5,221.75 655.8,222 667.5,222 678.9,221.8 693.75,223.25 706.25,223.75 713.75,225" fill="none" stroke="#2e9e2e" stroke-width="0.9"/><polyline points="428.4,18 429.8,35.4 430.4,53.3 431,58 431.6,62.5 434.2,80 436.4,90.5 437.9,100.8 439.7,110.6 441.6,121.25 443.4,128.5 445.4,137.5 447.6,143.75 449.5,150 451.4,155.6 452.8,161 454.2,165.3 457.5,170.6 460,175 463.1,178.1 465.8,180.5 468.6,182.5 471,185.5 473.7,189.7 480.5,191.9 484.25,195.6 493,196.25" fill="none" stroke="#ff88ff" stroke-width="0.9"/><polyline points="428.4,21.2 428.8,30.4 431.3,49.2 434.9,73.3 437.3,83.9 440.5,95.1 443.6,108 446.6,120.5 448.5,129 450.4,135.1 452.8,145 457.7,156 461.2,162 463,166.2 468.4,175.3" fill="none" stroke="#2ab0ff" stroke-width="0.9"/><circle cx="428.4" cy="49.4" r="2.9" fill="url(#sk)"/><circle cx="429" cy="72.5" r="2.9" fill="url(#sk)"/><circle cx="430.2" cy="81.5" r="2.9" fill="url(#sk)"/><circle cx="432.1" cy="94.7" r="2.9" fill="url(#sk)"/><circle cx="436.6" cy="120.1" r="2.9" fill="url(#sk)"/><circle cx="439.3" cy="132" r="2.9" fill="url(#sk)"/><circle cx="441.3" cy="138.1" r="2.9" fill="url(#sk)"/><circle cx="443.2" cy="145" r="2.9" fill="url(#sk)"/><circle cx="448.1" cy="178.7" r="2.9" fill="url(#sk)"/><circle cx="451.9" cy="179.5" r="2.9" fill="url(#sk)"/><circle cx="454.5" cy="182.5" r="2.9" fill="url(#sk)"/><circle cx="458.7" cy="189.3" r="2.9" fill="url(#sk)"/><circle cx="461.7" cy="193.3" r="2.9" fill="url(#sk)"/><circle cx="464.3" cy="195.8" r="2.9" fill="url(#sk)"/><circle cx="469.9" cy="202.5" r="2.9" fill="url(#sk)"/><circle cx="473.8" cy="209.2" r="2.9" fill="url(#sk)"/><circle cx="481" cy="213.2" r="2.9" fill="url(#sk)"/><circle cx="482.9" cy="215.1" r="2.9" fill="url(#sk)"/><circle cx="486" cy="216.3" r="2.9" fill="url(#sk)"/><circle cx="492.3" cy="220.1" r="2.9" fill="url(#sk)"/><circle cx="494.8" cy="221.3" r="2.9" fill="url(#sk)"/><circle cx="498.5" cy="222.6" r="2.9" fill="url(#sk)"/><circle cx="502.9" cy="224.2" r="2.9" fill="url(#sk)"/><circle cx="505.4" cy="225.1" r="2.9" fill="url(#sk)"/><circle cx="508.5" cy="225.7" r="2.9" fill="url(#sk)"/><circle cx="515" cy="226.3" r="2.9" fill="url(#sk)"/><circle cx="518.3" cy="228.2" r="2.9" fill="url(#sk)"/><circle cx="525.8" cy="230.1" r="2.9" fill="url(#sk)"/><circle cx="528.3" cy="230.7" r="2.9" fill="url(#sk)"/><circle cx="531.4" cy="231.3" r="2.9" fill="url(#sk)"/><circle cx="536.4" cy="232.6" r="2.9" fill="url(#sk)"/><circle cx="540.7" cy="232.3" r="2.9" fill="url(#sk)"/><circle cx="547.5" cy="233.8" r="2.9" fill="url(#sk)"/><circle cx="550.7" cy="234.2" r="2.9" fill="url(#sk)"/><circle cx="558.8" cy="234.5" r="2.9" fill="url(#sk)"/><circle cx="561.9" cy="236.3" r="2.9" fill="url(#sk)"/><circle cx="429.8" cy="27.6" r="2.9" fill="url(#sg)"/><circle cx="431.4" cy="42.9" r="2.9" fill="url(#sg)"/><circle cx="436.2" cy="69.5" r="2.9" fill="url(#sg)"/><circle cx="437.9" cy="77.3" r="2.9" fill="url(#sg)"/><circle cx="440.3" cy="86.5" r="2.9" fill="url(#sg)"/><circle cx="442.5" cy="95" r="2.9" fill="url(#sg)"/><circle cx="444.3" cy="101.5" r="2.9" fill="url(#sg)"/><circle cx="446.3" cy="109" r="2.9" fill="url(#sg)"/><circle cx="448.6" cy="117" r="2.9" fill="url(#sg)"/><circle cx="451" cy="125.6" r="2.9" fill="url(#sg)"/><circle cx="453.6" cy="135.3" r="2.9" fill="url(#sg)"/><circle cx="456" cy="141.5" r="2.9" fill="url(#sg)"/><circle cx="457.8" cy="147.3" r="2.9" fill="url(#sg)"/><circle cx="460.3" cy="151" r="2.9" fill="url(#sg)"/><circle cx="464.9" cy="160.8" r="2.9" fill="url(#sg)"/><circle cx="468.8" cy="166.6" r="2.9" fill="url(#sg)"/><circle cx="472.2" cy="170.6" r="2.9" fill="url(#sg)"/><circle cx="474.6" cy="174.5" r="2.9" fill="url(#sg)"/><circle cx="477.6" cy="177.5" r="2.9" fill="url(#sg)"/><circle cx="480" cy="181.5" r="2.9" fill="url(#sg)"/><circle cx="484.25" cy="186.25" r="2.9" fill="url(#sg)"/><circle cx="488" cy="188.75" r="2.9" fill="url(#sg)"/><circle cx="492.4" cy="190.6" r="2.9" fill="url(#sg)"/><circle cx="496.75" cy="193.75" r="2.9" fill="url(#sg)"/><circle cx="500.5" cy="195.6" r="2.9" fill="url(#sg)"/><circle cx="504.25" cy="196.9" r="2.9" fill="url(#sg)"/><circle cx="506.5" cy="200.3" r="2.9" fill="url(#sg)"/><circle cx="511.6" cy="201.9" r="2.9" fill="url(#sg)"/><circle cx="514.2" cy="205.3" r="2.9" fill="url(#sg)"/><circle cx="518.5" cy="205.3" r="2.9" fill="url(#sg)"/><circle cx="523.9" cy="205.6" r="2.9" fill="url(#sg)"/><circle cx="530.75" cy="206.25" r="2.9" fill="url(#sg)"/><circle cx="535.1" cy="208.1" r="2.9" fill="url(#sg)"/><circle cx="538.9" cy="208.1" r="2.9" fill="url(#sg)"/><circle cx="546" cy="210.6" r="2.9" fill="url(#sg)"/><circle cx="549.5" cy="210.6" r="2.9" fill="url(#sg)"/><circle cx="556.9" cy="211.25" r="2.9" fill="url(#sg)"/><circle cx="560.6" cy="212.5" r="2.9" fill="url(#sg)"/><circle cx="567.5" cy="213.1" r="2.9" fill="url(#sg)"/><circle cx="571.9" cy="212.5" r="2.9" fill="url(#sg)"/><circle cx="579" cy="213.75" r="2.9" fill="url(#sg)"/><circle cx="584.5" cy="215" r="2.9" fill="url(#sg)"/><circle cx="590.5" cy="216.25" r="2.9" fill="url(#sg)"/><circle cx="596.25" cy="216.25" r="2.9" fill="url(#sg)"/><circle cx="601.25" cy="217" r="2.9" fill="url(#sg)"/><circle cx="606.25" cy="218" r="2.9" fill="url(#sg)"/><circle cx="612.5" cy="218" r="2.9" fill="url(#sg)"/><circle cx="617" cy="218.75" r="2.9" fill="url(#sg)"/><circle cx="623.75" cy="219.25" r="2.9" fill="url(#sg)"/><circle cx="629.5" cy="219.25" r="2.9" fill="url(#sg)"/><circle cx="635" cy="220" r="2.9" fill="url(#sg)"/><circle cx="645.5" cy="221.75" r="2.9" fill="url(#sg)"/><circle cx="655.8" cy="222" r="2.9" fill="url(#sg)"/><circle cx="667.5" cy="222" r="2.9" fill="url(#sg)"/><circle cx="678.9" cy="221.8" r="2.9" fill="url(#sg)"/><circle cx="693.75" cy="223.25" r="2.9" fill="url(#sg)"/><circle cx="706.25" cy="223.75" r="2.9" fill="url(#sg)"/><circle cx="713.75" cy="225" r="2.9" fill="url(#sg)"/><circle cx="428.4" cy="18" r="2.9" fill="url(#sp)"/><circle cx="429.8" cy="35.4" r="2.9" fill="url(#sp)"/><circle cx="430.4" cy="53.3" r="2.9" fill="url(#sp)"/><circle cx="431" cy="58" r="2.9" fill="url(#sp)"/><circle cx="431.6" cy="62.5" r="2.9" fill="url(#sp)"/><circle cx="434.2" cy="80" r="2.9" fill="url(#sp)"/><circle cx="436.4" cy="90.5" r="2.9" fill="url(#sp)"/><circle cx="437.9" cy="100.8" r="2.9" fill="url(#sp)"/><circle cx="439.7" cy="110.6" r="2.9" fill="url(#sp)"/><circle cx="441.6" cy="121.25" r="2.9" fill="url(#sp)"/><circle cx="443.4" cy="128.5" r="2.9" fill="url(#sp)"/><circle cx="445.4" cy="137.5" r="2.9" fill="url(#sp)"/><circle cx="447.6" cy="143.75" r="2.9" fill="url(#sp)"/><circle cx="449.5" cy="150" r="2.9" fill="url(#sp)"/><circle cx="451.4" cy="155.6" r="2.9" fill="url(#sp)"/><circle cx="452.8" cy="161" r="2.9" fill="url(#sp)"/><circle cx="454.2" cy="165.3" r="2.9" fill="url(#sp)"/><circle cx="457.5" cy="170.6" r="2.9" fill="url(#sp)"/><circle cx="460" cy="175" r="2.9" fill="url(#sp)"/><circle cx="463.1" cy="178.1" r="2.9" fill="url(#sp)"/><circle cx="465.8" cy="180.5" r="2.9" fill="url(#sp)"/><circle cx="468.6" cy="182.5" r="2.9" fill="url(#sp)"/><circle cx="471" cy="185.5" r="2.9" fill="url(#sp)"/><circle cx="473.7" cy="189.7" r="2.9" fill="url(#sp)"/><circle cx="480.5" cy="191.9" r="2.9" fill="url(#sp)"/><circle cx="484.25" cy="195.6" r="2.9" fill="url(#sp)"/><circle cx="493" cy="196.25" r="2.9" fill="url(#sp)"/><circle cx="428.4" cy="21.2" r="2.9" fill="url(#sb)"/><circle cx="428.8" cy="30.4" r="2.9" fill="url(#sb)"/><circle cx="431.3" cy="49.2" r="2.9" fill="url(#sb)"/><circle cx="434.9" cy="73.3" r="2.9" fill="url(#sb)"/><circle cx="437.3" cy="83.9" r="2.9" fill="url(#sb)"/><circle cx="440.5" cy="95.1" r="2.9" fill="url(#sb)"/><circle cx="443.6" cy="108" r="2.9" fill="url(#sb)"/><circle cx="446.6" cy="120.5" r="2.9" fill="url(#sb)"/><circle cx="448.5" cy="129" r="2.9" fill="url(#sb)"/><circle cx="450.4" cy="135.1" r="2.9" fill="url(#sb)"/><circle cx="452.8" cy="145" r="2.9" fill="url(#sb)"/><circle cx="457.7" cy="156" r="2.9" fill="url(#sb)"/><circle cx="461.2" cy="162" r="2.9" fill="url(#sb)"/><circle cx="463" cy="166.2" r="2.9" fill="url(#sb)"/><circle cx="468.4" cy="175.3" r="2.9" fill="url(#sb)"/><g><rect x="47.4" y="10.2" width="74.3" height="64.5" fill="#fff" stroke="#7a7a7a" stroke-width="0.9"/><path d="M49.5 18.9H77.8" stroke="#c8c8c8" stroke-width="1.1"/><circle cx="63.8" cy="18.9" r="2.9" fill="url(#sk)"/><text x="82.2" y="23.1" font-size="9.2" text-anchor="start" stroke="#111" stroke-width="0.2">1st cycle</text><path d="M49.5 34.75H77.8" stroke="#b4e2b4" stroke-width="1.1"/><circle cx="63.8" cy="34.75" r="2.9" fill="url(#sg)"/><text x="82.2" y="38.95" font-size="9.2" text-anchor="start" stroke="#111" stroke-width="0.2">2nd cycle</text><path d="M49.5 50.6H77.8" stroke="#ffc8ff" stroke-width="1.1"/><circle cx="63.8" cy="50.6" r="2.9" fill="url(#sp)"/><text x="82.2" y="54.8" font-size="9.2" text-anchor="start" stroke="#111" stroke-width="0.2">3rd cycle</text><path d="M49.5 66.45H77.8" stroke="#a8dcff" stroke-width="1.1"/><circle cx="63.8" cy="66.45" r="2.9" fill="url(#sb)"/><text x="82.2" y="70.65" font-size="9.2" text-anchor="start" stroke="#111" stroke-width="0.2">4th cycle</text><rect x="651.1" y="8.1" width="69.6" height="55.5" fill="#fff" stroke="#7a7a7a" stroke-width="0.9"/><path d="M653.2 16.4H677.4" stroke="#2a2a2a" stroke-width="0.9"/><circle cx="665.1" cy="16.4" r="2.8" fill="url(#sk)"/><text x="680.6" y="20" font-size="9.2" text-anchor="start" stroke="#111" stroke-width="0.2">1st cycle</text><path d="M653.2 30H677.4" stroke="#2e9e2e" stroke-width="0.9"/><circle cx="665.1" cy="30" r="2.8" fill="url(#sg)"/><text x="680.6" y="33.6" font-size="9.2" text-anchor="start" stroke="#111" stroke-width="0.2">2nd cycle</text><path d="M653.2 43.6H677.4" stroke="#ff88ff" stroke-width="0.9"/><circle cx="665.1" cy="43.6" r="2.8" fill="url(#sp)"/><text x="680.6" y="47.2" font-size="9.2" text-anchor="start" stroke="#111" stroke-width="0.2">3rd cycle</text><path d="M653.2 57.2H677.4" stroke="#2ab0ff" stroke-width="0.9"/><circle cx="665.1" cy="57.2" r="2.8" fill="url(#sb)"/><text x="680.6" y="60.8" font-size="9.2" text-anchor="start" stroke="#111" stroke-width="0.2">4th cycle</text></g><g stroke="#111" stroke-width="0.22"><text x="37.3" y="255.5" font-size="10.5" text-anchor="end" >0</text><text x="37.3" y="231.24" font-size="10.5" text-anchor="end" >75</text><text x="37.3" y="206.98" font-size="10.5" text-anchor="end" >150</text><text x="37.3" y="182.72" font-size="10.5" text-anchor="end" >225</text><text x="37.3" y="158.46" font-size="10.5" text-anchor="end" >300</text><text x="37.3" y="134.2" font-size="10.5" text-anchor="end" >375</text><text x="37.3" y="109.94" font-size="10.5" text-anchor="end" >450</text><text x="37.3" y="85.68" font-size="10.5" text-anchor="end" >525</text><text x="37.3" y="61.42" font-size="10.5" text-anchor="end" >600</text><text x="37.3" y="37.16" font-size="10.5" text-anchor="end" >675</text><text x="37.3" y="12.9" font-size="10.5" text-anchor="end" >750</text><text x="45.4" y="268.8" font-size="10.5" text-anchor="middle" >0</text><text x="72.8" y="268.8" font-size="10.5" text-anchor="middle" >5</text><text x="100.2" y="268.8" font-size="10.5" text-anchor="middle" >10</text><text x="127.6" y="268.8" font-size="10.5" text-anchor="middle" >15</text><text x="155" y="268.8" font-size="10.5" text-anchor="middle" >20</text><text x="182.4" y="268.8" font-size="10.5" text-anchor="middle" >25</text><text x="209.8" y="268.8" font-size="10.5" text-anchor="middle" >30</text><text x="237.2" y="268.8" font-size="10.5" text-anchor="middle" >35</text><text x="264.6" y="268.8" font-size="10.5" text-anchor="middle" >40</text><text x="292" y="268.8" font-size="10.5" text-anchor="middle" >45</text><text x="319.4" y="268.8" font-size="10.5" text-anchor="middle" >50</text><text x="346.8" y="268.8" font-size="10.5" text-anchor="middle" >55</text><text x="196.1" y="288" font-size="12.5" text-anchor="middle" >time/ min</text><text transform="translate(14.2 130.4) rotate(-90)" font-size="12.5" text-anchor="middle">photocurrent/ nA</text><text x="415.8" y="256.1" font-size="10.5" text-anchor="end" >0</text><text x="415.8" y="235.67" font-size="10.5" text-anchor="end" >1</text><text x="415.8" y="215.23" font-size="10.5" text-anchor="end" >2</text><text x="415.8" y="194.8" font-size="10.5" text-anchor="end" >3</text><text x="415.8" y="174.37" font-size="10.5" text-anchor="end" >4</text><text x="415.8" y="153.93" font-size="10.5" text-anchor="end" >5</text><text x="415.8" y="133.5" font-size="10.5" text-anchor="end" >6</text><text x="415.8" y="113.07" font-size="10.5" text-anchor="end" >7</text><text x="415.8" y="92.63" font-size="10.5" text-anchor="end" >8</text><text x="415.8" y="72.2" font-size="10.5" text-anchor="end" >9</text><text x="415.8" y="51.77" font-size="10.5" text-anchor="end" >10</text><text x="415.8" y="31.33" font-size="10.5" text-anchor="end" >11</text><text x="415.8" y="10.9" font-size="10.5" text-anchor="end" >12</text><text x="428.4" y="269.3" font-size="10.5" text-anchor="middle" >0</text><text x="474.53" y="269.3" font-size="10.5" text-anchor="middle" >100</text><text x="520.66" y="269.3" font-size="10.5" text-anchor="middle" >200</text><text x="566.79" y="269.3" font-size="10.5" text-anchor="middle" >300</text><text x="612.92" y="269.3" font-size="10.5" text-anchor="middle" >400</text><text x="659.05" y="269.3" font-size="10.5" text-anchor="middle" >500</text><text x="705.18" y="269.3" font-size="10.5" text-anchor="middle" >600</text><text x="576.3" y="288.4" font-size="12.5" text-anchor="middle" >time/ h</text><text transform="translate(398 130.5) rotate(-90)" font-size="12.5" text-anchor="middle">QE/ %</text></g><text x="181" y="317.4" font-size="20.5" text-anchor="middle" font-family="'Liberation Serif', serif">(<tspan font-weight="bold" font-size="22.5">a</tspan>)</text><text x="561.2" y="317.4" font-size="20.5" text-anchor="middle" font-family="'Liberation Serif', serif">(<tspan font-weight="bold" font-size="22.5">b</tspan>)</text></svg></body></html>
